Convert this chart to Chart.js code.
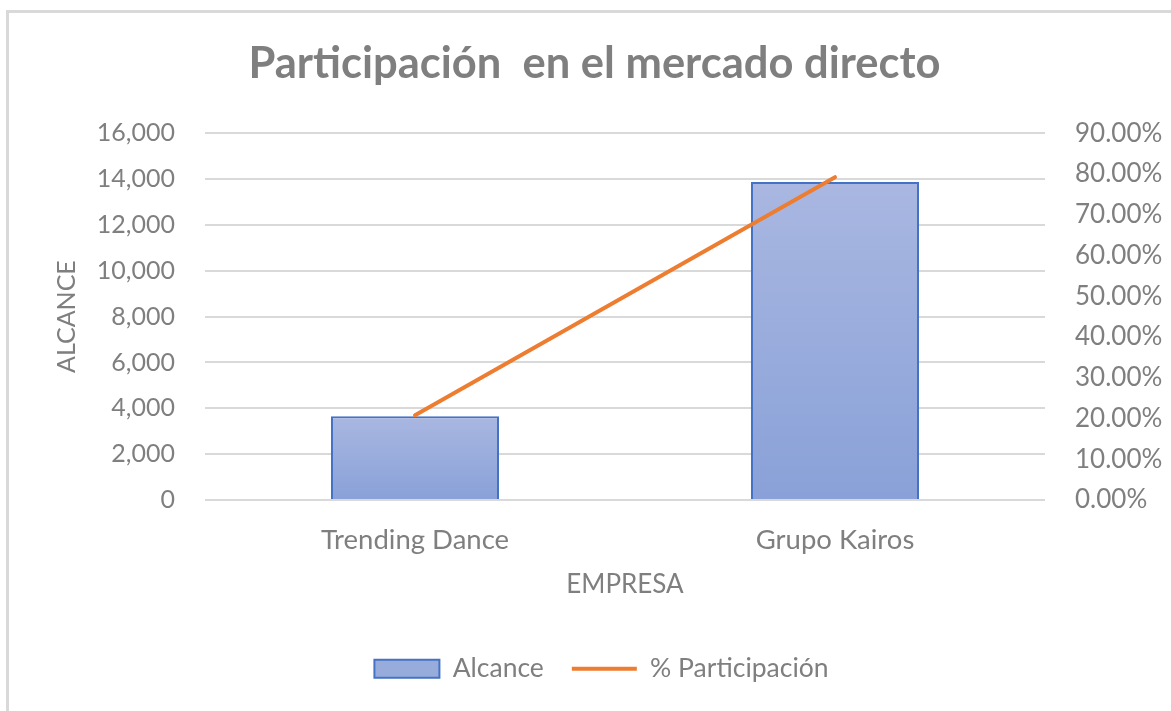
<!DOCTYPE html>
<html><head><meta charset="utf-8">
<script src="https://cdn.jsdelivr.net/npm/chart.js@4.4.0/dist/chart.umd.min.js"></script>
<style>
html,body{margin:0;padding:0;background:#fff;overflow:hidden;}
#wrap{position:absolute;left:0;top:0;width:1171px;height:711px;}
#frame{position:absolute;left:6px;top:10px;width:1200px;height:760px;border-left:3px solid #d9d9d9;border-top:3px solid #d9d9d9;pointer-events:none;}
canvas{position:absolute;left:0;top:0;}
</style></head>
<body>
<div id="wrap"><canvas id="c" width="1171" height="711"></canvas><div id="frame"></div></div>
<script>
const categories = ['Trending Dance', 'Grupo Kairos'];
const alcance = [3650, 13870];
const participacion = [0.208, 0.792];
const leftTicks = [0, 2000, 4000, 6000, 8000, 10000, 12000, 14000, 16000];
const rightTicks = [0, 0.1, 0.2, 0.3, 0.4, 0.5, 0.6, 0.7, 0.8, 0.9];

const FONT = 'Lato';
const GRAY = '#7f7f7f';
Chart.defaults.font.family = FONT;
Chart.defaults.color = GRAY;

function barGradient(ctx) {
  const chart = ctx.chart;
  const ca = chart.chartArea;
  if (!ca || ctx.type !== 'data') return '#98acdc';
  const y = chart.scales.y;
  const top = y.getPixelForValue(ctx.raw);
  const base = y.getPixelForValue(0);
  const g = chart.ctx.createLinearGradient(0, top, 0, base);
  g.addColorStop(0, '#a9b7e1');
  g.addColorStop(1, '#89a1d8');
  return g;
}

const shiftBlocks = {
  id: 'shiftBlocks',
  afterLayout(chart) {
    if (chart.legend) { chart.legend.left += 16; chart.legend.right += 16; }
    if (chart.titleBlock) { chart.titleBlock.left += 9; chart.titleBlock.right += 9; }
  }
};

new Chart(document.getElementById('c'), {
  data: {
    labels: categories,
    datasets: [
      {
        type: 'line', label: '% Participación', data: participacion, yAxisID: 'y1',
        borderColor: '#ed7d31', backgroundColor: '#ed7d31', borderWidth: 4,
        pointRadius: 0, order: 0, borderCapStyle: 'round'
      },
      {
        type: 'bar', label: 'Alcance', data: alcance, yAxisID: 'y',
        backgroundColor: barGradient, borderColor: '#4472c4', borderWidth: 2,
        barPercentage: 0.4, categoryPercentage: 1.0, order: 1
      }
    ]
  },
  plugins: [shiftBlocks],
  options: {
    responsive: false, animation: false,
    layout: { padding: { left: 0, right: 0, top: 0, bottom: 19 } },
    plugins: {
      title: {
        display: true, text: 'Participación  en el mercado directo',
        color: '#7f7f7f', font: { size: 43.5, weight: 'bold', family: FONT },
        padding: { top: 38, bottom: 43 }
      },
      legend: {
        position: 'bottom',
        labels: {
          font: { size: 26.5, family: FONT }, color: GRAY,
          usePointStyle: true, pointStyleWidth: 65, boxHeight: 18, padding: 28,
          generateLabels(chart) {
            const items = Chart.defaults.plugins.legend.labels.generateLabels(chart);
            items.forEach(it => {
              if (it.datasetIndex === 1) {
                it.pointStyle = 'rect'; it.fillStyle = '#98acdc'; it.strokeStyle = '#4472c4'; it.lineWidth = 2;
              } else {
                it.pointStyle = 'line'; it.strokeStyle = '#ed7d31'; it.lineWidth = 4;
              }
            });
            return items.sort((a, b) => b.datasetIndex - a.datasetIndex);
          }
        }
      },
      tooltip: { enabled: false }
    },
    scales: {
      x: {
        grid: { display: false, drawTicks: false },
        border: { display: false },
        ticks: { font: { size: 27.5, family: FONT }, color: GRAY, padding: 24 },
        title: { display: true, text: 'EMPRESA', font: { size: 26, family: FONT }, color: GRAY, padding: { top: 0, bottom: 27 } },
        afterFit(s) { s.height = 127.5; }
      },
      y: {
        position: 'left', min: 0, max: 16000,
        afterBuildTicks(s) { s.ticks = leftTicks.map(v => ({ value: v })); },
        grid: { color: '#d9d9d9', lineWidth: 2, drawTicks: false },
        border: { display: false },
        ticks: { font: { size: 25, family: FONT }, color: GRAY, padding: 30,
          callback: v => v.toLocaleString('en-US') },
        title: { display: true, text: 'ALCANCE', font: { size: 25, family: FONT }, color: GRAY, padding: { top: 52, bottom: 0 } },
        afterFit(s) { s.width = 205; }
      },
      y1: {
        position: 'right', min: 0, max: 0.9,
        afterBuildTicks(s) { s.ticks = rightTicks.map(v => ({ value: v })); },
        grid: { display: false, drawTicks: false },
        border: { display: false },
        ticks: { font: { size: 26, family: FONT }, color: GRAY, padding: 30,
          callback: v => (v * 100).toFixed(2) + '%' },
        afterFit(s) { s.width = 126; }
      }
    }
  }
});
</script>
</body></html>
